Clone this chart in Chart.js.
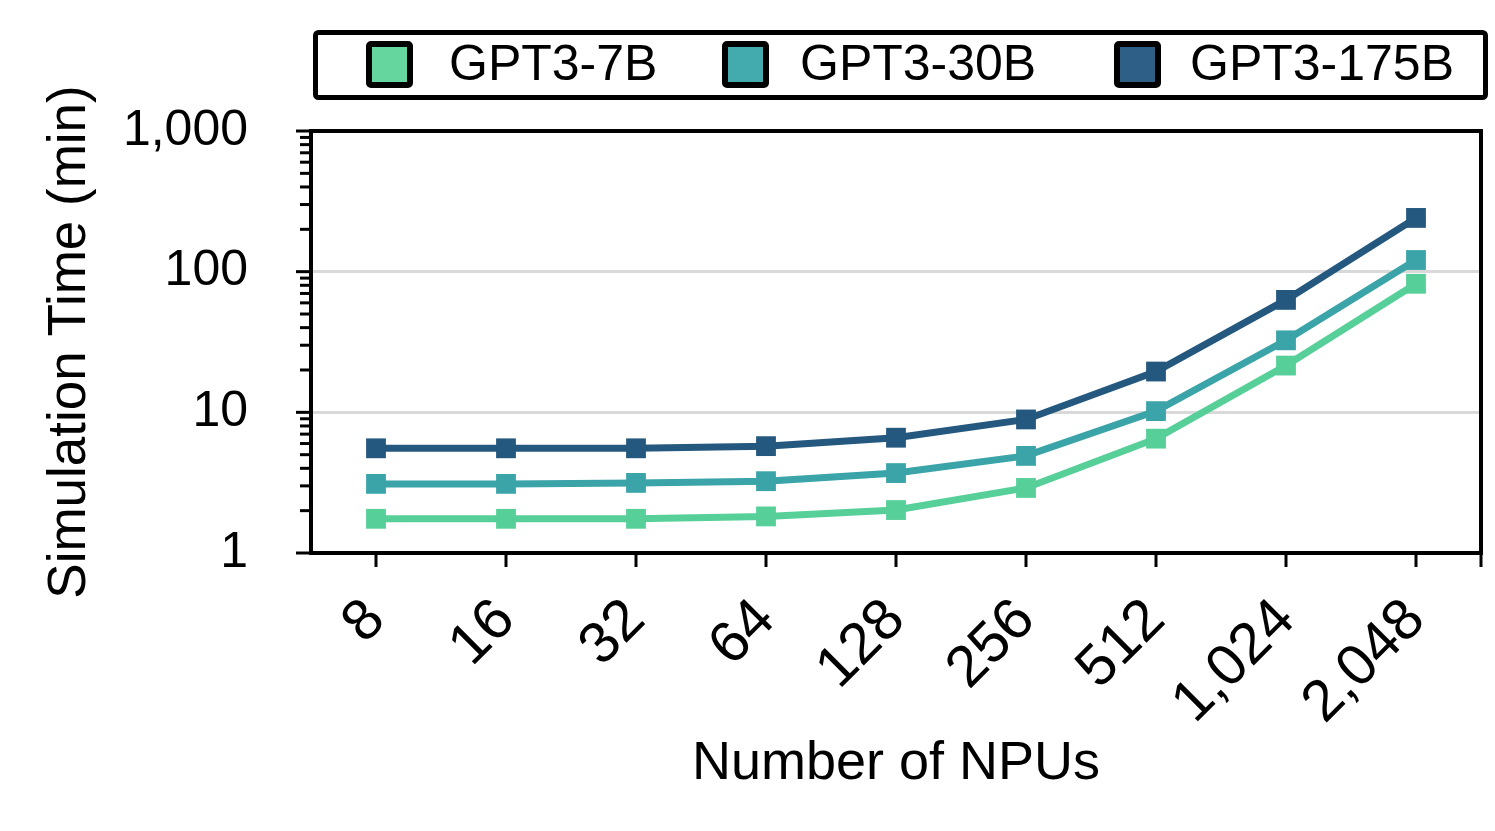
<!DOCTYPE html>
<html>
<head>
<meta charset="utf-8">
<script src="https://cdn.jsdelivr.net/npm/chart.js@4.4.1/dist/chart.umd.min.js"></script>
<style>
  html, body { margin: 0; padding: 0; background: #fff; overflow: hidden; }
  canvas { display: block; }
</style>
</head>
<body>
<canvas id="simChart" width="1495" height="831" style="width:1495px;height:831px"></canvas>
<script>
// data
const npus = ['8', '16', '32', '64', '128', '256', '512', '1,024', '2,048'];
const gpt7b = [1.75, 1.75, 1.75, 1.82, 2.02, 2.9, 6.5, 21.5, 82];
const gpt30b = [3.1, 3.1, 3.15, 3.24, 3.7, 4.9, 10.2, 32.5, 121];
const gpt175b = [5.55, 5.55, 5.55, 5.75, 6.6, 8.9, 19.5, 63, 241];
const seriesNames = ['GPT3-7B', 'GPT3-30B', 'GPT3-175B'];
const lineColors = ['#57CF99', '#3AA4A8', '#24587E'];
const legendColors = ['#66D69F', '#43ABAE', '#2D5F87'];
const yMajor = [1, 10, 100, 1000];

const FONT = '"Liberation Sans", Arial, Helvetica, sans-serif';
const isMajor = (v) => yMajor.some((m) => Math.abs(v - m) < 1e-6 * m);

const makeSet = (label, data, color) => ({
  label,
  data,
  borderColor: color,
  backgroundColor: color,
  borderWidth: 7,
  pointStyle: 'rect',
  pointRadius: 14,
  pointHoverRadius: 14,
  pointBorderWidth: 0,
  pointBackgroundColor: color,
  tension: 0,
});

// legend item offsets from the plot's left edge: [square, text]
const legendSlots = [[55, 138], [411, 489], [803, 879]];

const framePlugin = {
  id: 'frame',
  afterDraw(chart) {
    const { ctx, chartArea: ca, scales } = chart;
    const line = (x1, y1, x2, y2) => {
      ctx.beginPath(); ctx.moveTo(x1, y1); ctx.lineTo(x2, y2); ctx.stroke();
    };
    ctx.save();
    ctx.strokeStyle = '#000';
    ctx.lineWidth = 4;
    ctx.strokeRect(ca.left, ca.top, ca.right - ca.left, ca.bottom - ca.top);

    // y ticks, long for decades, short for the rest
    ctx.lineWidth = 3;
    scales.y.ticks.forEach((t) => {
      const py = scales.y.getPixelForValue(t.value);
      const len = isMajor(t.value) ? 15 : 11;
      line(ca.left - len, py, ca.left, py);
    });
    // x ticks
    scales.x.ticks.forEach((t, i) => {
      const px = scales.x.getPixelForTick(i);
      line(px, ca.bottom, px, ca.bottom + 14);
    });
    line(ca.right, ca.bottom, ca.right, ca.bottom + 14);

    // legend
    ctx.lineWidth = 5;
    ctx.beginPath();
    ctx.roundRect(ca.left + 4.5, 32.5, ca.right - ca.left, 65, 3);
    ctx.stroke();
    ctx.font = `50px ${FONT}`;
    ctx.textBaseline = 'middle';
    ctx.textAlign = 'left';
    seriesNames.forEach((name, i) => {
      const [sq, tx] = legendSlots[i];
      ctx.fillStyle = legendColors[i];
      ctx.lineWidth = 6;
      ctx.beginPath();
      ctx.roundRect(ca.left + sq + 3, 44, 41, 41, 2);
      ctx.fill();
      ctx.stroke();
      ctx.fillStyle = '#000';
      ctx.fillText(name, ca.left + tx, 66);
    });
    ctx.restore();
  },
};

new Chart(document.getElementById('simChart'), {
  type: 'line',
  data: {
    labels: npus,
    datasets: [
      makeSet(seriesNames[0], gpt7b, lineColors[0]),
      makeSet(seriesNames[1], gpt30b, lineColors[1]),
      makeSet(seriesNames[2], gpt175b, lineColors[2]),
    ],
  },
  options: {
    responsive: false,
    animation: false,
    devicePixelRatio: 1,
    layout: { padding: { top: 131, left: 30, right: 10, bottom: 0 } },
    plugins: { legend: { display: false }, tooltip: { enabled: false } },
    scales: {
      x: {
        type: 'category',
        offset: true,
        afterFit: (s) => { s.height = 278; s.paddingLeft = 0; s.paddingRight = 0; },
        grid: { display: false, drawTicks: false },
        border: { display: false },
        ticks: {
          autoSkip: false,
          minRotation: 45,
          maxRotation: 45,
          padding: 33,
          color: '#000',
          font: { family: FONT, size: 58 },
        },
        title: {
          display: true,
          text: 'Number of NPUs',
          color: '#000',
          font: { family: FONT, size: 54 },
          padding: { top: 0, bottom: 34 },
        },
      },
      y: {
        type: 'logarithmic',
        min: 1,
        max: 1000,
        afterFit: (s) => { s.width = 281; },
        afterBuildTicks: (s) => {
          const ticks = [];
          [1, 10, 100].forEach((d) => {
            for (let k = 1; k < 10; k++) ticks.push({ value: d * k });
          });
          ticks.push({ value: 1000 });
          s.ticks = ticks;
        },
        grid: {
          drawTicks: false,
          lineWidth: 3,
          color: (c) => (c.tick && (c.tick.value === 10 || c.tick.value === 100)) ? '#d9d9d9' : 'rgba(0,0,0,0)',
        },
        border: { display: false },
        ticks: {
          autoSkip: false,
          padding: 63,
          color: '#000',
          font: { family: FONT, size: 50 },
          callback: (v) => (isMajor(v) ? Number(v).toLocaleString('en-US') : ''),
        },
        title: {
          display: true,
          text: 'Simulation Time (min)',
          color: '#000',
          font: { family: FONT, size: 53 },
          padding: { top: 9, bottom: 0 },
        },
      },
    },
  },
  plugins: [framePlugin],
});
</script>
</body>
</html>
